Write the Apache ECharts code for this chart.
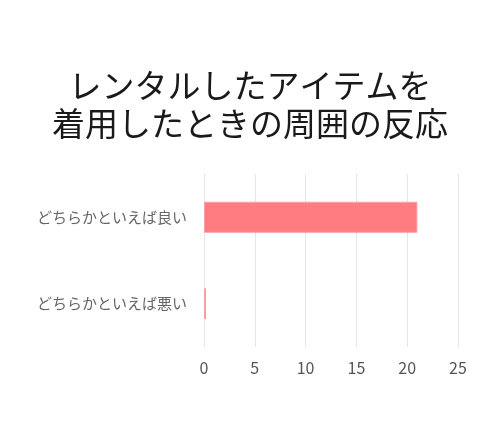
<!DOCTYPE html>
<html>
<head>
<meta charset="utf-8">
<script src="https://cdn.jsdelivr.net/npm/echarts@6/dist/echarts.min.js"></script>
<style>
  html, body { margin: 0; padding: 0; background: #fff; }
  #chart { width: 500px; height: 445px; }
</style>
</head>
<body>
<div id="chart"></div>
<script>
// 数据
const titleLines = ["レンタルしたアイテムを", "着用したときの周囲の反応"];
const categories = ["どちらかといえば良い", "どちらかといえば悪い"];
const values = [21, 0];
const xTicks = [0, 5, 10, 15, 20, 25];

const chart = echarts.init(document.getElementById("chart"));

const options = {
    animation: false,
    textStyle: { fontFamily: "Noto Sans CJK JP" },
    title: {
        text: titleLines.join("\n"),
        left: "center",
        top: 61,
        textStyle: {
            fontSize: 33,
            fontWeight: "normal",
            color: "#1a1a1a",
            lineHeight: 38,
            fontFamily: "Noto Sans CJK JP"
        }
    },
    grid: { left: 204, right: 42, top: 174, bottom: 98 },
    xAxis: {
        type: "value",
        min: xTicks[0],
        max: xTicks[xTicks.length - 1],
        interval: 5,
        axisLine: { show: false },
        axisTick: { show: false },
        axisLabel: { color: "#555", fontSize: 16, margin: 13 },
        splitLine: { lineStyle: { color: "#e6e6e6", width: 1 } }
    },
    yAxis: {
        type: "category",
        inverse: true,
        data: categories,
        axisLine: { show: false },
        axisTick: { show: false },
        axisLabel: { color: "#666", fontSize: 15, margin: 17 }
    },
    series: [{
        type: "bar",
        data: values,
        barWidth: 31,
        barMinHeight: 2,
        itemStyle: {
            color: "#ff7c80",
            borderColor: "#ff9ca1",
            borderWidth: 1
        }
    }]
};

chart.setOption(options);
</script>
</body>
</html>
